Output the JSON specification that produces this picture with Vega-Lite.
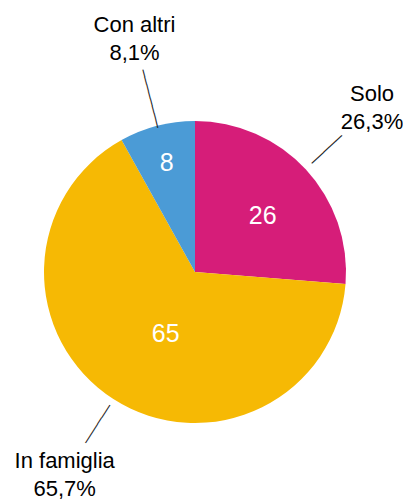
{
  "$schema": "https://vega.github.io/schema/vega-lite/v6.json",
  "width": 390,
  "height": 458,
  "autosize": {"type": "none"},
  "padding": {"left": 0, "top": 43, "right": 13, "bottom": 0},
  "background": "white",
  "view": {"stroke": null},
  "data": {
    "values": [
      {"label": "Solo", "n": 26, "pct": "26,3%", "ord": 1},
      {"label": "In famiglia", "n": 65, "pct": "65,7%", "ord": 2},
      {"label": "Con altri", "n": 8, "pct": "8,1%", "ord": 3}
    ]
  },
  "encoding": {
    "theta": {"field": "n", "type": "quantitative", "stack": true},
    "order": {"field": "ord", "type": "quantitative"}
  },
  "layer": [
    {
      "mark": {"type": "arc", "outerRadius": 151},
      "encoding": {
        "color": {
          "field": "label",
          "type": "nominal",
          "scale": {"domain": ["Solo", "In famiglia", "Con altri"], "range": ["#d61d79", "#f6b904", "#4b9bd6"]},
          "legend": null
        }
      }
    },
    {
      "mark": {"type": "text", "radius": 241, "dy": -14, "align": "center", "baseline": "middle", "font": "Liberation Sans", "fontSize": 22, "letterSpacing": -0.5, "color": "#000000"},
      "encoding": {"text": {"field": "label"}}
    },
    {
      "mark": {"type": "text", "radius": 241, "dy": 14, "align": "center", "baseline": "middle", "font": "Liberation Sans", "fontSize": 22, "letterSpacing": -0.8, "color": "#000000"},
      "encoding": {"text": {"field": "pct"}}
    },
    {
      "mark": {"type": "text", "radius": 88, "dx": 3, "dy": 4, "align": "center", "baseline": "middle", "font": "Liberation Sans", "fontSize": 25, "letterSpacing": -0.5, "color": "white"},
      "encoding": {"text": {"condition": {"test": "datum.label === 'Solo'", "field": "n", "type": "quantitative"}, "value": ""}}
    },
    {
      "mark": {"type": "text", "radius": 69, "dx": 8, "dy": 4, "align": "center", "baseline": "middle", "font": "Liberation Sans", "fontSize": 25, "letterSpacing": -0.5, "color": "white"},
      "encoding": {"text": {"condition": {"test": "datum.label === 'In famiglia'", "field": "n", "type": "quantitative"}, "value": ""}}
    },
    {
      "mark": {"type": "text", "radius": 113, "align": "center", "baseline": "middle", "font": "Liberation Sans", "fontSize": 25, "color": "white"},
      "encoding": {"text": {"condition": {"test": "datum.label === 'Con altri'", "field": "n", "type": "quantitative"}, "value": ""}}
    },
    {
      "mark": {"type": "text", "radius": 180, "angle": -42.7, "align": "center", "baseline": "middle", "font": "DejaVu Sans Mono", "fontSize": 13.6, "color": "#1a1a1a"},
      "encoding": {"text": {"condition": {"test": "datum.label === 'Solo'", "value": "─────"}, "value": ""}}
    },
    {
      "mark": {"type": "text", "radius": 180.5, "angle": 122.7, "align": "center", "baseline": "middle", "font": "DejaVu Sans Mono", "fontSize": 12.46, "color": "#1a1a1a"},
      "encoding": {"text": {"condition": {"test": "datum.label === 'In famiglia'", "value": "──────"}, "value": ""}}
    },
    {
      "mark": {"type": "text", "radius": 179, "angle": 75.5, "align": "center", "baseline": "middle", "font": "DejaVu Sans Mono", "fontSize": 12.46, "color": "#1a1a1a"},
      "encoding": {"text": {"condition": {"test": "datum.label === 'Con altri'", "value": "────────"}, "value": ""}}
    }
  ]
}
